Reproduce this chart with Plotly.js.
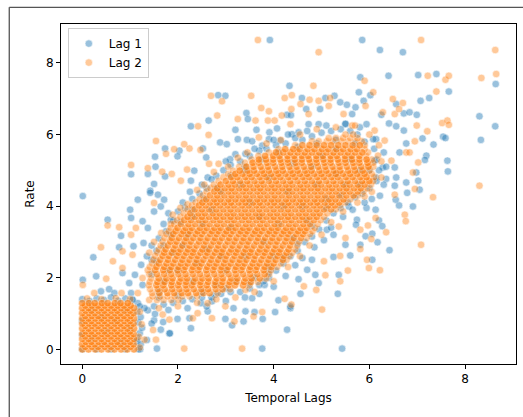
<!DOCTYPE html>
<html>
<head>
<meta charset="utf-8">
<script src="https://cdn.plot.ly/plotly-3.0.1.min.js"></script>
<style>html,body{margin:0;padding:0;background:#fff;}#chart{width:523px;height:417px;}</style>
</head>
<body>
<div id="chart"></div>
<script>
// ---------------- data ----------------
const seriesNames = ["Lag 1", "Lag 2"];
const xTicks = [0, 2, 4, 6, 8];
const yTicks = [0, 2, 4, 6, 8];

// Lag 1 – scattered points
const lag1Outer = [
[2.64,6.39],[2.27,6.23],[1.73,5.61],[2.03,5.55],[1.99,5.39],[1.52,5.38],[1.53,5.10],[1.02,4.89],[1.37,4.90],[1.73,4.83],[2.34,4.99],[2.52,5.61],[2.59,5.36],[1.50,4.62],[1.42,4.43],[0.01,4.28],[2.62,4.80],[2.27,4.71],
[3.92,8.64],[5.85,8.64],[4.33,7.36],[5.81,7.60],[2.84,7.10],[2.99,7.08],[4.59,7.02],[5.08,7.02],[5.27,7.08],[5.78,7.18],[3.43,6.60],[3.46,6.43],[3.20,6.13],[3.25,5.87],[3.64,6.13],[4.07,6.17],[3.91,6.06],[4.28,6.55],[4.36,6.54],[4.68,6.71],[4.97,6.71],[5.39,6.90],[5.53,6.83],[5.71,6.76],[5.64,6.57],[5.88,6.94],[2.88,5.78],[3.02,5.73],[3.44,5.85],[3.55,5.81],[3.76,5.69],[3.90,5.87],[4.52,6.06],[4.94,6.29],[4.38,6.01],[4.14,5.83],[4.73,6.29],[5.50,6.29],[3.09,5.31],[3.41,5.46],
[6.22,8.36],[6.70,8.30],[8.64,7.41],[6.40,7.64],[7.02,7.66],[7.40,7.69],[7.66,7.20],[7.07,6.94],[7.25,7.02],[6.02,7.10],[6.56,6.85],[6.72,6.59],[6.84,6.62],[6.99,6.55],[6.25,6.55],[6.41,6.31],[6.56,6.23],[6.72,6.11],[7.11,5.89],[7.54,5.94],[7.59,5.90],[7.34,5.72],[8.30,6.51],[8.63,6.23],[8.33,5.85],[7.63,5.27],[7.64,4.97],[7.19,5.41],[7.16,5.29],[6.98,4.94],[7.02,4.71],[7.05,4.46],[6.77,5.75],[6.63,5.50],[6.53,5.08],[6.77,4.66],[6.56,4.80],[6.35,4.76],[6.28,5.08],[6.14,5.87],[5.94,6.29],[6.08,5.87],[6.11,5.27],[6.14,4.80],[6.53,4.57],
[6.91,3.99],[6.79,4.37],[6.62,4.02],[6.55,4.18],[6.13,3.90],[6.20,3.60],[6.27,3.44],[6.06,3.23],[5.92,3.16],[6.17,2.99],[6.42,2.77],[6.06,2.50],[5.94,3.95],[6.22,4.29],
[3.76,0.02],[5.43,0.02],[4.28,0.55],[3.37,0.78],[3.77,0.85],[3.13,0.67],[2.99,0.85],[3.60,1.04],[4.03,1.04],[4.35,1.15],[4.10,1.37],[4.56,1.55],[4.52,1.96],[4.94,1.85],[5.36,2.08],[5.34,1.55],[5.25,2.58],[5.60,2.62],[5.81,2.92],[5.50,2.92],[5.25,3.20],[5.11,3.34],[5.74,3.62],[5.72,3.48],[5.57,3.99],[4.80,2.50],[4.70,2.22],[4.87,2.08],[4.35,1.20],[3.81,1.80],[3.79,1.90],[3.55,1.43],[2.71,1.34],[3.41,1.06],[3.16,1.15],[2.78,1.53],
[1.16,4.18],[1.00,3.90],[1.02,3.67],[0.53,3.62],[0.81,3.17],[0.77,2.85],[0.23,2.57],[0.84,2.13],[0.01,1.94],[0.29,2.04],[0.56,1.68],[0.39,1.62],[0.67,1.57],[1.02,1.57],[1.05,1.39],[1.26,1.80],[1.10,2.08],[0.98,1.85],[1.23,2.36],[1.07,2.88],[1.28,2.97],[1.37,3.39],[1.26,3.58],[1.50,3.85],[1.64,3.99],[1.58,4.32],[1.42,4.37],[1.71,4.18],[1.85,3.62],[1.64,0.55],[1.82,0.44],[1.56,0.02],[1.50,0.81],[1.99,0.85],[2.27,0.59],[1.52,0.99],[1.37,1.09],[1.30,1.15],[1.16,1.29],[2.24,0.87],[2.62,1.06],[2.48,1.29],
[1.21,0.00],[1.83,0.45],[1.69,0.76],[1.45,0.72],[1.35,0.26],[1.14,0.21]
];
// Lag 1 – points along the edge of the dense cloud
const lag1Edge = [
[1.45,2.50],[1.55,2.75],[1.60,3.10],[1.75,3.30],[1.90,3.60],[2.00,3.85],[2.15,3.95],[2.30,4.20],[2.45,4.35],[2.60,4.50],[2.80,4.85],[2.95,5.00],[3.10,5.15],[3.30,5.25],[3.50,5.40],[3.70,5.55],[3.85,5.60],[4.05,5.70],[4.25,5.75],[4.45,5.90],[4.60,5.85],[4.80,5.95],[5.00,6.05],[5.20,6.10],[5.40,6.15],[5.60,6.10],[5.75,6.00],[5.90,5.80],
[1.50,1.20],[1.70,1.25],[1.90,1.30],[2.10,1.35],[2.30,1.40],[2.50,1.45],[2.70,1.45],[2.90,1.55],[3.10,1.60],[3.30,1.60],[3.50,1.70],[3.70,1.80],[3.90,2.00],[4.05,2.20],[4.20,2.40],[4.35,2.60],[4.50,2.75],[4.65,3.00],[4.80,3.15],[4.95,3.35],[5.10,3.60],[5.25,3.80],[5.40,3.95],[5.55,4.10],[5.70,4.25],[5.85,4.35],[6.00,4.50],[6.15,4.70],[6.20,5.00],[6.15,5.30],[6.10,5.60],
[1.35,2.60],[1.45,2.90],[1.70,3.50],[1.80,3.80],[2.10,4.10],[2.25,4.40],[2.50,4.60],[2.70,4.75],[3.00,5.25],[3.20,5.45],[3.60,5.60],[4.00,5.85],[4.30,6.00],[4.70,6.10],[5.10,6.25],[5.50,6.30],[5.80,6.20],
[1.80,1.10],[2.20,1.15],[2.60,1.20],[3.00,1.35],[3.40,1.45],[3.70,1.55],[4.00,1.75],[4.25,2.05],[4.45,2.35],[4.60,2.55],[4.85,2.85],[5.05,3.05],[5.20,3.40],[5.45,3.70],[5.65,3.90],[5.90,4.10],[6.05,4.20],[6.30,4.60],[6.35,5.10],[6.30,5.50],
[1.45,2.10],[1.55,2.45],[1.70,2.90],[1.85,3.20],[2.05,3.55],[2.30,3.90],[2.55,4.20],[2.80,4.50],[3.10,4.85],[3.40,5.10],[3.75,5.30],[4.10,5.50],[4.50,5.65],[4.90,5.75],[5.30,5.85],[5.70,5.75],
[1.60,1.45],[2.00,1.50],[2.50,1.60],[3.00,1.70],[3.50,1.85],[3.90,2.15],[4.20,2.55],[4.50,2.95],[4.80,3.45],[5.10,3.95],[5.40,4.30],[5.80,4.60],[6.00,5.00]
];
// Lag 1 – points inside the dense cloud
const lag1Inner = [
[1.60,1.60],[2.00,2.20],[2.30,1.90],[2.60,2.80],[2.20,3.20],[1.90,2.70],[3.00,2.20],[3.40,2.60],[3.10,3.40],[2.70,3.90],[3.50,4.10],[3.80,3.00],[4.10,3.50],[4.30,4.40],[3.90,4.80],[4.60,4.00],[4.90,4.60],[5.30,4.90],[5.60,5.30],[5.00,5.40],[4.40,5.20],[3.30,4.60],[2.50,3.50],[2.90,2.60],[3.60,2.00],[4.00,2.60],[4.40,3.10],[4.70,3.60],[5.10,4.20],[5.50,4.60],[5.80,5.00],[3.20,1.90],[2.40,2.40],[1.80,2.20],[2.10,2.90],[3.70,3.70],[4.20,4.00],[4.80,5.10],[5.30,5.60],[3.40,5.00],[2.90,4.40],[2.30,3.70],[1.70,1.90],[2.80,1.80],[3.90,2.30]
];
// Lag 1 – low block near the origin
const lag1Block = [
[0.00,0.00],[0.30,0.00],[0.60,0.00],[0.90,0.00],[0.00,0.40],[0.00,0.80],[0.20,0.30],[0.50,0.50],[0.80,0.20],[0.40,0.90],[0.70,0.80],[1.00,0.60],[0.20,1.10],[0.90,1.10],
[1.18,0.00],[1.22,0.15],[1.15,0.30],[1.20,0.45],[1.25,0.60],[1.17,0.75],[1.22,0.90],[1.15,1.05],[1.20,1.20],
[0.00,1.40],[0.15,1.35],[0.30,1.42],[0.45,1.38],[0.60,1.45],[0.75,1.36],[0.90,1.42],[1.05,1.38]
];

// Lag 2 – scattered points
const lag2Outer = [
[2.69,7.08],[2.42,6.23],[2.64,5.99],[1.54,5.82],[1.92,5.59],[2.13,5.73],[2.24,5.61],[1.75,5.46],[1.02,5.15],[1.37,5.06],[1.67,4.96],[1.87,4.90],[2.19,5.02],[2.47,5.57],[2.65,5.18],[2.06,4.71],
[3.67,8.64],[4.94,8.30],[4.83,7.36],[2.92,6.93],[3.53,7.08],[4.23,7.02],[4.38,7.10],[4.75,6.97],[5.18,7.02],[2.82,6.53],[3.74,6.74],[3.90,6.65],[3.25,6.43],[3.62,6.39],[3.88,6.39],[4.02,6.39],[4.17,6.53],[4.37,6.71],[4.56,6.85],[4.73,6.57],[4.94,6.94],[5.15,6.80],[5.46,6.57],[3.69,5.92],[4.35,6.29],[5.64,6.25],[2.85,5.18],
[7.08,8.64],[8.63,8.36],[8.34,7.58],[8.65,7.69],[7.22,7.64],[7.59,7.53],[7.66,7.64],[7.40,7.20],[6.49,6.99],[6.08,7.18],[5.92,6.80],[5.90,7.50],[6.70,6.88],[6.53,6.57],[6.62,6.71],[6.28,6.62],[6.99,6.25],[7.21,6.09],[6.95,5.81],[7.52,6.32],[7.63,6.39],[7.66,6.27],[8.30,4.57],[7.02,5.22],[6.77,5.50],[6.84,5.50],[6.91,4.94],[6.46,5.27],[6.32,5.83],[6.11,6.11],[6.18,5.41],[5.97,5.13],[5.94,4.71],[6.95,4.48],
[7.33,4.25],[6.74,3.76],[6.76,3.58],[6.53,4.32],[6.13,3.67],[6.35,3.27],[5.97,3.46],[6.04,3.08],[7.08,2.92],[5.95,2.50],[5.99,2.27],[6.22,2.21],[5.90,4.27],
[3.34,0.02],[3.18,0.78],[3.58,0.92],[3.76,1.04],[5.01,1.11],[4.37,1.25],[4.23,1.41],[4.63,1.76],[4.89,1.66],[5.08,2.07],[5.39,1.90],[5.55,2.20],[5.39,2.61],[5.81,2.80],[5.50,3.11],[5.36,3.43],[5.81,3.34],[5.05,2.46],[2.71,0.87],[2.99,1.20],[3.41,1.66],
[0.53,3.46],[0.77,3.41],[1.02,3.20],[0.39,2.85],[0.64,2.46],[0.84,2.74],[0.84,2.27],[0.01,1.80],[0.50,1.97],[0.82,1.57],[0.25,1.57],[1.16,1.57],[1.26,1.99],[1.05,2.64],[1.12,3.39],[1.50,4.09],[1.89,3.76],[2.13,0.02],[1.82,0.83],[2.31,0.87],[1.54,0.27],[1.30,0.27],[1.68,0.97],[2.41,1.01],[2.62,1.29],[1.48,0.54],
[1.20,0.05],[1.18,0.35],[1.24,0.70],[1.20,1.05],[0.10,1.42],[0.40,1.40],[0.70,1.43],[1.00,1.40]
];
// Lag 2 – points along the edge of the dense cloud
const lag2Edge = [
[1.40,2.70],[1.50,3.00],[1.65,3.25],[1.85,3.50],[2.05,3.95],[2.20,4.05],[2.40,4.45],[2.55,4.60],[2.75,4.95],[3.05,5.10],[3.25,5.35],[3.45,5.50],[3.85,5.75],[4.15,5.85],[4.55,6.00],[4.90,6.15],[5.30,6.20],[5.70,6.25],[6.00,6.00],
[1.60,1.15],[2.00,1.20],[2.40,1.30],[2.80,1.40],[3.20,1.45],[3.60,1.60],[4.00,1.90],[4.30,2.30],[4.55,2.60],[4.75,2.90],[5.00,3.20],[5.20,3.55],[5.45,3.85],[5.75,4.10],[6.05,4.40],[6.25,4.80],[6.25,5.25],[6.20,5.70]
];
// Lag 2 – dense cloud, row by row (y of each row, then its x values)
const lag2CoreRowY = [1.38,1.48,1.57,1.68,1.79,1.88,1.98,2.10,2.21,2.30,2.40,2.50,2.61,2.70,2.79,2.90,3.01,3.11,3.22,3.30,3.39,3.50,3.61,3.70,3.80,3.91,4.02,4.10,4.19,4.30,4.41,4.50,4.60,4.70,4.81,4.90,4.99,5.10,5.21,5.30,5.40,5.50,5.59,5.70,5.81,5.90,6.00];
const lag2CoreRowX = [
[1.40,1.56,1.70,1.86,2.01],
[1.47,1.63,1.78,1.93,2.09,2.24,2.40],
[1.46,1.61,1.78,1.92,2.08,2.21,2.38,2.53,2.66,2.83],
[1.42,1.58,1.72,1.88,2.03,2.18,2.33,2.49,2.63,2.79,2.93,3.09],
[1.39,1.55,1.69,1.86,2.00,2.16,2.29,2.46,2.60,2.77,2.90,3.06,3.19,3.36,3.49],
[1.41,1.57,1.72,1.87,2.03,2.17,2.33,2.47,2.63,2.78,2.93,3.08,3.22,3.38,3.52,3.67],
[1.44,1.60,1.76,1.89,2.06,2.19,2.36,2.51,2.64,2.81,2.94,3.11,3.24,3.41,3.54,3.71,3.84],
[1.40,1.56,1.71,1.86,2.01,2.16,2.31,2.46,2.61,2.76,2.91,3.06,3.21,3.36,3.51,3.66,3.81,3.90],
[1.37,1.52,1.69,1.83,1.99,2.12,2.29,2.42,2.59,2.73,2.89,3.02,3.19,3.32,3.49,3.62,3.79,3.94],
[1.41,1.55,1.71,1.86,2.01,2.15,2.31,2.45,2.61,2.76,2.91,3.05,3.21,3.35,3.51,3.65,3.81,3.95,4.07],
[1.46,1.60,1.76,1.90,2.06,2.20,2.36,2.49,2.66,2.80,2.96,3.10,3.26,3.39,3.56,3.70,3.86,4.00,4.15],
[1.49,1.63,1.79,1.94,2.09,2.24,2.39,2.53,2.69,2.84,2.99,3.14,3.29,3.43,3.59,3.74,3.89,4.04,4.19,4.27],
[1.52,1.68,1.81,1.98,2.12,2.28,2.41,2.58,2.72,2.88,3.01,3.18,3.32,3.48,3.61,3.78,3.92,4.08,4.21,4.33],
[1.57,1.71,1.87,2.01,2.17,2.31,2.47,2.61,2.77,2.91,3.07,3.21,3.37,3.51,3.67,3.81,3.97,4.11,4.27,4.39],
[1.60,1.74,1.91,2.05,2.21,2.34,2.51,2.65,2.81,2.94,3.11,3.25,3.41,3.54,3.71,3.85,4.01,4.14,4.31,4.45],
[1.64,1.79,1.94,2.09,2.24,2.39,2.54,2.69,2.84,2.99,3.14,3.29,3.44,3.59,3.74,3.89,4.04,4.19,4.34,4.49],
[1.68,1.84,1.97,2.14,2.27,2.44,2.58,2.74,2.87,3.04,3.18,3.34,3.47,3.64,3.78,3.94,4.07,4.24,4.38,4.53],
[1.72,1.87,2.02,2.17,2.32,2.47,2.62,2.77,2.92,3.07,3.22,3.37,3.52,3.67,3.82,3.97,4.12,4.27,4.42,4.57,4.69],
[1.76,1.90,2.07,2.21,2.37,2.50,2.67,2.81,2.97,3.10,3.27,3.41,3.57,3.70,3.87,4.01,4.17,4.30,4.47,4.61,4.76],
[1.81,1.95,2.11,2.25,2.41,2.55,2.71,2.85,3.01,3.15,3.31,3.45,3.61,3.75,3.91,4.05,4.21,4.35,4.51,4.65,4.81],
[1.85,1.99,2.16,2.29,2.46,2.60,2.76,2.89,3.06,3.20,3.36,3.49,3.66,3.80,3.96,4.09,4.26,4.40,4.56,4.69,4.86],
[1.92,2.06,2.22,2.36,2.52,2.66,2.82,2.96,3.12,3.26,3.42,3.56,3.72,3.86,4.02,4.16,4.32,4.46,4.62,4.76,4.92],
[1.98,2.13,2.27,2.44,2.57,2.74,2.88,3.04,3.17,3.34,3.48,3.64,3.77,3.94,4.08,4.24,4.37,4.54,4.68,4.84,4.98],
[2.05,2.20,2.35,2.50,2.65,2.80,2.95,3.10,3.25,3.40,3.55,3.70,3.85,4.00,4.15,4.30,4.45,4.60,4.75,4.90,5.05],
[2.12,2.26,2.43,2.56,2.73,2.87,3.03,3.16,3.33,3.47,3.63,3.76,3.93,4.07,4.23,4.36,4.53,4.67,4.83,4.96,5.12],
[2.20,2.35,2.50,2.65,2.80,2.95,3.10,3.25,3.40,3.55,3.70,3.85,4.00,4.15,4.30,4.45,4.60,4.75,4.90,5.05,5.20,5.30],
[2.29,2.44,2.58,2.74,2.88,3.04,3.17,3.34,3.48,3.64,3.77,3.94,4.08,4.24,4.37,4.54,4.68,4.84,4.97,5.14,5.28,5.39],
[2.37,2.51,2.67,2.81,2.97,3.11,3.27,3.41,3.57,3.71,3.87,4.01,4.17,4.31,4.47,4.61,4.77,4.91,5.07,5.21,5.37,5.50],
[2.45,2.59,2.76,2.89,3.06,3.20,3.36,3.49,3.66,3.80,3.96,4.09,4.26,4.40,4.56,4.69,4.86,5.00,5.16,5.29,5.46,5.60],
[2.52,2.67,2.82,2.97,3.12,3.27,3.42,3.57,3.72,3.87,4.02,4.17,4.32,4.47,4.62,4.77,4.92,5.07,5.22,5.37,5.52,5.67,5.76],
[2.60,2.76,2.89,3.06,3.19,3.36,3.50,3.66,3.79,3.96,4.10,4.26,4.39,4.56,4.70,4.86,4.99,5.16,5.30,5.46,5.59,5.76,5.88],
[2.68,2.82,2.98,3.12,3.28,3.42,3.58,3.72,3.88,4.02,4.18,4.32,4.48,4.62,4.78,4.92,5.08,5.22,5.38,5.52,5.68,5.82,5.96],
[2.75,2.89,3.06,3.19,3.36,3.50,3.66,3.79,3.96,4.10,4.26,4.39,4.56,4.70,4.86,4.99,5.16,5.30,5.46,5.59,5.76,5.90,6.03],
[2.85,3.00,3.15,3.30,3.45,3.60,3.75,3.90,4.05,4.20,4.35,4.50,4.65,4.80,4.95,5.10,5.25,5.40,5.55,5.70,5.85,6.00,6.08],
[2.95,3.11,3.24,3.41,3.54,3.71,3.85,4.01,4.14,4.31,4.45,4.61,4.74,4.91,5.05,5.21,5.34,5.51,5.65,5.81,5.94,6.10],
[3.05,3.20,3.35,3.50,3.65,3.80,3.95,4.10,4.25,4.40,4.55,4.70,4.85,5.00,5.15,5.30,5.45,5.60,5.75,5.90,6.05],
[3.15,3.29,3.46,3.59,3.76,3.90,4.06,4.19,4.36,4.50,4.66,4.79,4.96,5.10,5.26,5.39,5.56,5.70,5.86,6.00],
[3.28,3.43,3.58,3.73,3.88,4.03,4.18,4.33,4.48,4.63,4.78,4.93,5.08,5.23,5.38,5.53,5.68,5.83,5.98,6.08],
[3.40,3.56,3.69,3.86,3.99,4.16,4.30,4.46,4.59,4.76,4.90,5.06,5.19,5.36,5.50,5.66,5.79,5.96,6.08],
[3.54,3.69,3.84,3.99,4.14,4.29,4.44,4.59,4.74,4.89,5.04,5.19,5.34,5.49,5.64,5.79,5.94,6.05],
[3.68,3.82,3.99,4.12,4.29,4.43,4.59,4.72,4.89,5.03,5.19,5.32,5.49,5.63,5.79,5.93],
[3.90,4.05,4.20,4.35,4.50,4.65,4.80,4.95,5.10,5.25,5.40,5.55,5.70,5.85,5.97],
[4.10,4.24,4.41,4.54,4.71,4.85,5.01,5.14,5.31,5.45,5.61,5.74,5.90],
[4.45,4.60,4.75,4.90,5.05,5.20,5.35,5.50,5.65,5.80,5.90],
[4.80,4.94,5.11,5.24,5.41,5.55,5.71,5.84],
[5.15,5.30,5.45,5.60,5.75],
[5.50,5.66]
];
// Lag 2 – low block near the origin, row by row
const lag2BlockRowY = [0.00,0.07,0.14,0.21,0.29,0.36,0.43,0.50,0.58,0.65,0.72,0.79,0.86,0.93,1.01,1.08,1.15,1.22,1.29];
const lag2BlockRowX = [
[0.00,0.13,0.27,0.40,0.54,0.67,0.81,0.94,1.08],
[0.06,0.20,0.33,0.47,0.60,0.74,0.87,1.01],
[0.00,0.14,0.26,0.41,0.53,0.68,0.80,0.95,1.07],
[0.07,0.19,0.34,0.46,0.61,0.73,0.88,1.00],
[0.00,0.13,0.27,0.40,0.54,0.67,0.81,0.94,1.08],
[0.06,0.20,0.33,0.47,0.60,0.74,0.87,1.01],
[0.00,0.14,0.26,0.41,0.53,0.68,0.80,0.95,1.07],
[0.07,0.19,0.34,0.46,0.61,0.73,0.88,1.00],
[0.00,0.13,0.27,0.40,0.54,0.67,0.81,0.94,1.08],
[0.06,0.20,0.33,0.47,0.60,0.74,0.87,1.01],
[0.00,0.14,0.26,0.41,0.53,0.68,0.80,0.95,1.07],
[0.07,0.19,0.34,0.46,0.61,0.73,0.88,1.00],
[0.00,0.13,0.27,0.40,0.54,0.67,0.81,0.94,1.08],
[0.06,0.20,0.33,0.47,0.60,0.74,0.87,1.01],
[0.00,0.14,0.26,0.41,0.53,0.68,0.80,0.95,1.07],
[0.07,0.19,0.34,0.46,0.61,0.73,0.88,1.00],
[0.00,0.13,0.27,0.40,0.54,0.67,0.81,0.94,1.08],
[0.06,0.20,0.33,0.47,0.60,0.74,0.87,1.01],
[0.00,0.14,0.26,0.41,0.53,0.68,0.80,0.95]
];

// ---------------- build ----------------
function xsOf(p){ return p.map(d=>d[0]); }
function ysOf(p){ return p.map(d=>d[1]); }

// the outermost points of each core row are drawn lightly (the cloud thins out there)
const coreDense = [], coreLight = [];
lag2CoreRowY.forEach((y, i) => {
  const row = lag2CoreRowX[i];
  const edgeRow = i < 2 || i >= lag2CoreRowY.length - 3;
  row.forEach((x, j) => {
    if (edgeRow || j === 0 || j === row.length - 1) coreLight.push([x, y]); else coreDense.push([x, y]);
  });
});
const blockPts = [];
lag2BlockRowY.forEach((y, i) => lag2BlockRowX[i].forEach(x => blockPts.push([x, y])));

const lag1All = lag1Outer.concat(lag1Edge, lag1Inner, lag1Block);
const lag2Light = lag2Outer.concat(lag2Edge, coreLight);
const lag2Dense = coreDense.concat(blockPts);

const BLUE = '#1f77b4', ORANGE = '#ff7f0e';
function mk(color, op, lw){ return {color: color, size: 7.5, opacity: op, line: {color: '#ffffff', width: lw}}; }

const traces = [
  {type:'scatter', mode:'markers', name: seriesNames[0], legendgroup:'l1', x: xsOf(lag1All), y: ysOf(lag1All), marker: mk(BLUE, 0.45, 0.6), hoverinfo:'skip'},
  {type:'scatter', mode:'markers', name: seriesNames[1], legendgroup:'l2', x: xsOf(lag2Light), y: ysOf(lag2Light), marker: mk(ORANGE, 0.42, 0.6), hoverinfo:'skip'},
  {type:'scatter', mode:'markers', name: seriesNames[1], legendgroup:'l2', showlegend:false, x: xsOf(lag2Dense), y: ysOf(lag2Dense), marker: mk(ORANGE, 0.66, 0.5), hoverinfo:'skip'}
];

const FONT = 'DejaVu Sans, Liberation Sans, sans-serif';
const axisCommon = {
  showline: true, mirror: true, linecolor: '#000', linewidth: 1,
  ticks: 'outside', ticklen: 4, tickwidth: 1, tickcolor: '#000',
  showgrid: false, zeroline: false, automargin: false,
  tickfont: {family: FONT, size: 12, color: '#000'}
};

const layout = {
  width: 523, height: 417,
  margin: {l: 61, r: 7, t: 24, b: 53},
  paper_bgcolor: '#fff', plot_bgcolor: '#fff',
  font: {family: FONT, size: 12, color: '#000'},
  showlegend: true,
  legend: {x: 0.015, y: 0.988, xanchor: 'left', yanchor: 'top', tracegroupgap: 0, bgcolor: 'rgba(255,255,255,0.8)', bordercolor: '#cccccc', borderwidth: 1, font: {family: FONT, size: 12, color: '#000'}},
  xaxis: Object.assign({}, axisCommon, {range: [-0.445, 9.064], tickvals: xTicks, ticktext: xTicks.map(String), title: {text: 'Temporal Lags', font: {family: FONT, size: 12, color: '#000'}, standoff: 8}}),
  yaxis: Object.assign({}, axisCommon, {range: [-0.41, 9.087], tickvals: yTicks, ticktext: yTicks.map(String), title: {text: 'Rate', font: {family: FONT, size: 12, color: '#000'}, standoff: 8}}),
  shapes: [
    {type: 'line', xref: 'paper', yref: 'paper', x0: -0.1137, x1: -0.1137, y0: 1.049, y1: -0.3, line: {color: '#555', width: 1.3}},
    {type: 'line', xref: 'paper', yref: 'paper', x0: -0.1137, x1: 1.1, y0: 1.049, y1: 1.049, line: {color: '#555', width: 1.3}}
  ]
};

Plotly.newPlot('chart', traces, layout, {staticPlot: true, displayModeBar: false});
</script>
</body>
</html>
